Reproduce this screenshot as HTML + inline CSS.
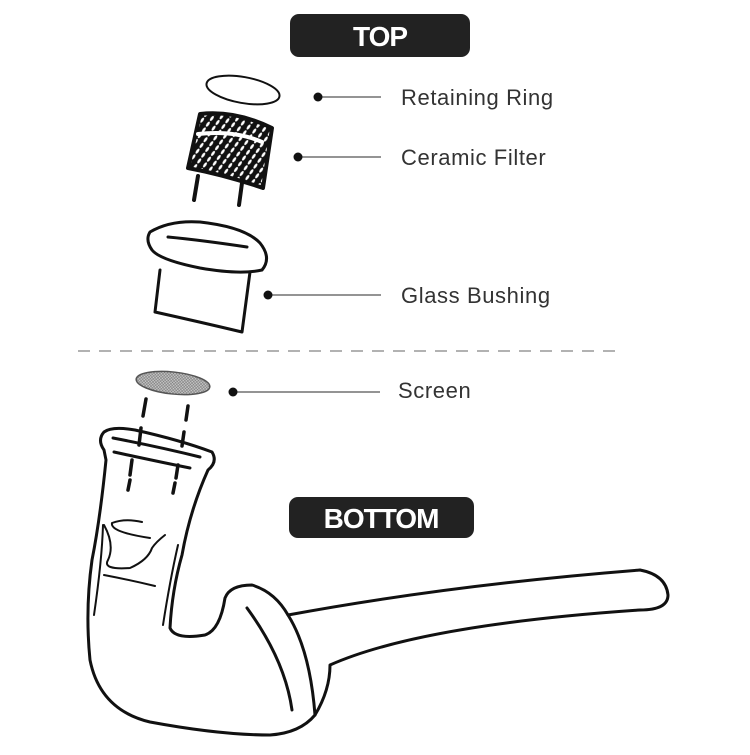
<!DOCTYPE html>
<html><head><meta charset="utf-8"><style>
body{margin:0;background:#fff;width:750px;height:750px;overflow:hidden;font-family:"Liberation Sans",sans-serif}
</style></head><body>
<svg width="750" height="750" viewBox="0 0 750 750" xmlns="http://www.w3.org/2000/svg">
<defs>
<pattern id="mesh" width="7" height="7" patternUnits="userSpaceOnUse" patternTransform="rotate(35)">
<rect width="7" height="7" fill="#111"/><ellipse cx="3.5" cy="3.5" rx="1.3" ry="3" fill="#fff"/>
</pattern>
<pattern id="fine" width="3" height="3" patternUnits="userSpaceOnUse">
<rect width="3" height="3" fill="#ccc"/><path d="M0 0L3 3M3 0L0 3" stroke="#777" stroke-width="0.6"/>
</pattern>
</defs>
<rect x="290" y="14" width="180" height="43" rx="9" fill="#222"/>
<text x="380" y="46" text-anchor="middle" font-size="28" font-weight="bold" fill="#fff" letter-spacing="-1">TOP</text>
<rect x="289" y="497" width="185" height="41" rx="9" fill="#222"/>
<text x="381" y="528" text-anchor="middle" font-size="28" font-weight="bold" fill="#fff" letter-spacing="-1">BOTTOM</text>

<g font-size="22" fill="#333" letter-spacing="0.6">
<text x="401" y="105">Retaining Ring</text>
<text x="401" y="165">Ceramic Filter</text>
<text x="401" y="303">Glass Bushing</text>
<text x="398" y="398">Screen</text>
</g>
<g stroke="#555" stroke-width="1.3">
<line x1="318" y1="97" x2="381" y2="97"/>
<line x1="298" y1="157" x2="381" y2="157"/>
<line x1="268" y1="295" x2="381" y2="295"/>
<line x1="233" y1="392" x2="380" y2="392"/>
</g>
<g fill="#111">
<circle cx="318" cy="97" r="4.5"/><circle cx="298" cy="157" r="4.5"/>
<circle cx="268" cy="295" r="4.5"/><circle cx="233" cy="392" r="4.5"/>
</g>
<line x1="78" y1="351" x2="620" y2="351" stroke="#999" stroke-width="1.5" stroke-dasharray="12,9"/>

<g fill="none" stroke="#111" stroke-width="3" stroke-linecap="round" stroke-linejoin="round">
<!-- retaining ring -->
<ellipse cx="243" cy="90" rx="37" ry="13" transform="rotate(10 243 90)" stroke-width="2"/>
<!-- ceramic filter -->
<path d="M200 114 Q235 110 272 128 L263 188 Q225 175 188 168 Z" fill="url(#mesh)" stroke-width="4"/>
<path d="M198 134 Q235 130 262 142" stroke="#fff" stroke-width="4"/>
<path d="M198 176 L194 200 M242 183 L239 205" stroke-width="4"/>
<!-- bushing -->
<path d="M160 270 L155 312 Q200 322 242 332 L250 272"/>
<path d="M150 232 Q170 220 200 222 Q245 227 260 243 Q272 258 262 270 Q240 275 200 268 Q160 260 152 250 Q145 240 150 232 Z"/>
<path d="M168 237 Q200 240 247 247"/>
<!-- screen -->
<ellipse cx="173" cy="383" rx="37" ry="11" transform="rotate(6 173 383)" fill="url(#fine)" stroke="#555" stroke-width="1.5"/>
<path d="M146 399 L143 416 M141 428 L139 445 M188 406 L186 420 M184 432 L182 446 M132 460 L130 475 M130 480 L128 490 M178 465 L176 478 M175 483 L173 493" stroke-width="3.5"/>
<!-- pipe -->
<path d="M104 432 Q97 440 104 450 L106 460 Q100 520 92 560 Q85 610 90 660 Q100 710 150 722 Q220 735 270 735 Q300 733 315 715 Q330 690 330 665 Q420 625 640 610 Q668 610 668 595 Q666 575 640 570 Q450 585 288 615 Q275 592 252 585 Q230 585 225 598 Q220 630 205 635 Q175 640 170 628 Q172 590 182 555 Q190 510 208 470 Q218 462 212 452 Q180 440 135 430 Q112 426 104 432 Z"/>
<path d="M113 438 Q160 447 200 457 M114 452 Q160 462 190 468"/>
<path d="M103 525 Q102 560 94 615 M178 545 Q170 580 163 625" stroke-width="2"/>
<path d="M112 523 Q125 518 142 522 M112 523 Q110 532 150 538" stroke-width="2"/>
<path d="M104 525 Q115 545 108 560 Q102 570 130 568 Q148 560 152 548 Q156 542 165 535" stroke-width="2"/>
<path d="M104 575 Q130 580 155 586" stroke-width="2"/>
<path d="M247 608 Q285 660 292 710"/>
<path d="M288 615 Q310 650 315 715"/>
</g>
</svg>
</body></html>
